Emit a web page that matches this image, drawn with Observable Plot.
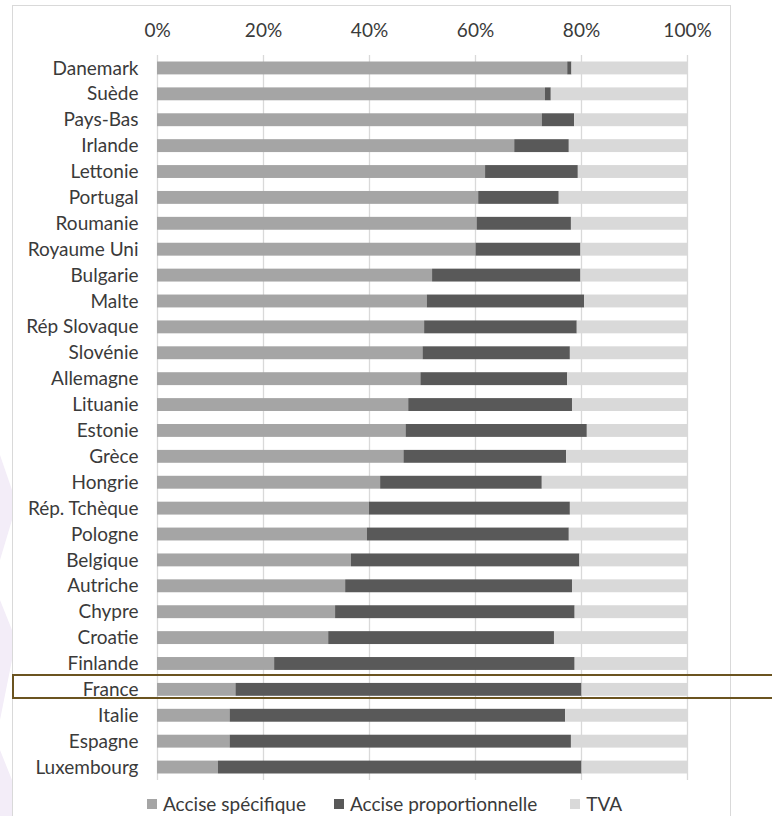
<!DOCTYPE html>
<html>
<head>
<meta charset="utf-8">
<script src="https://cdn.jsdelivr.net/npm/d3@7"></script>
<script src="https://cdn.jsdelivr.net/npm/@observablehq/plot@0.6"></script>
<style>
  html, body { margin: 0; padding: 0; background: #fff; }
  #wrap { position: relative; width: 772px; height: 816px; overflow: hidden; font-family: Lato, "Open Sans", sans-serif; }
  #deco { position: absolute; left: 0; top: 0; }
  #frame { position: absolute; left: 12px; top: 5px; width: 719px; height: 830px; border: 1px solid #d9d9d9; box-sizing: border-box; }
  #chart { position: absolute; left: 0; top: 0; }
  #hl { position: absolute; left: 12px; top: 674px; width: 790px; height: 25px; border: 2px solid #6b5420; box-sizing: border-box; }
  #legend { position: absolute; left: 147px; top: 792px; display: flex; align-items: center; font-size: 19px; color: #3a3a3a; white-space: nowrap; }
  #legend .it { display: flex; align-items: center; }
  #legend .sw { width: 10px; height: 10px; margin-right: 6px; display: inline-block; }
</style>
</head>
<body>
<div id="wrap">
  <svg id="deco" width="14" height="816">
    <polygon points="0,455 12,490 12,520 0,560" fill="#f3edf8"/>
    <polygon points="0,600 12,630 12,660 0,720" fill="#f3edf8"/>
    <polygon points="0,750 12,780 12,816 0,816" fill="#f3edf8"/>
  </svg>
  <div id="frame"></div>
  <div id="chart"></div>
  <div id="hl"></div>
  <div id="legend"></div>
</div>
<script>
const countries = ["Danemark","Suède","Pays-Bas","Irlande","Lettonie","Portugal","Roumanie","Royaume Uni","Bulgarie","Malte","Rép Slovaque","Slovénie","Allemagne","Lituanie","Estonie","Grèce","Hongrie","Rép. Tchèque","Pologne","Belgique","Autriche","Chypre","Croatie","Finlande","France","Italie","Espagne","Luxembourg"];
const acciseSpecifique = [77.4,73.2,72.6,67.4,61.9,60.6,60.3,60.1,51.9,50.9,50.4,50.1,49.7,47.4,46.9,46.5,42.1,40.0,39.6,36.6,35.5,33.6,32.3,22.1,14.8,13.7,13.7,11.5];
const acciseProportionnelle = [0.8,1.1,6.1,10.3,17.5,15.2,17.8,19.8,28.0,29.7,28.8,27.8,27.7,30.9,34.2,30.7,30.5,37.9,38.1,43.1,42.8,45.2,42.6,56.7,65.3,63.3,64.4,68.6];
const tva = [21.8,25.7,21.3,22.3,20.6,24.2,21.9,20.1,20.1,19.4,20.8,22.1,22.6,21.7,18.9,22.8,27.4,22.1,22.3,20.3,21.7,21.2,25.1,21.2,19.9,23.0,21.9,19.9];
const series = ["Accise spécifique","Accise proportionnelle","TVA"];
const colors = ["#a5a5a5","#595959","#d9d9d9"];
const xTicks = [0,20,40,60,80,100];

const rows = [];
countries.forEach((c, i) => {
  rows.push({pays: c, type: series[0], v: acciseSpecifique[i]});
  rows.push({pays: c, type: series[1], v: acciseProportionnelle[i]});
  rows.push({pays: c, type: series[2], v: tva[i]});
});

const plot = Plot.plot({
  width: 772,
  height: 790,
  marginLeft: 157,
  marginRight: 85,
  marginTop: 55,
  marginBottom: 10,
  style: {fontFamily: "Lato, 'Open Sans', sans-serif", fontSize: "19px", color: "#3a3a3a", background: "transparent"},
  x: {domain: [0, 100], axis: "top", ticks: xTicks, tickFormat: d => d + "%", tickSize: 0, tickPadding: 19, label: null},
  y: {domain: countries, paddingInner: 0, paddingOuter: 0, round: false, tickSize: 0, tickPadding: 19, label: null},
  color: {domain: series, range: colors},
  marks: [
    Plot.ruleX(xTicks, {stroke: "#d9d9d9", strokeWidth: 1.3}),
    Plot.barX(rows, Plot.stackX({x: "v", y: "pays", fill: "type", order: null, insetTop: 6.5, insetBottom: 6.5}))
  ]
});
document.getElementById("chart").appendChild(plot);

const lg = document.getElementById("legend");
const gaps = [28, 33, 0];
series.forEach((s, i) => {
  const it = document.createElement("span");
  it.className = "it";
  it.style.marginRight = gaps[i] + "px";
  const sw = document.createElement("span");
  sw.className = "sw";
  sw.style.background = colors[i];
  it.appendChild(sw);
  it.appendChild(document.createTextNode(s));
  lg.appendChild(it);
});
</script>
</body>
</html>
